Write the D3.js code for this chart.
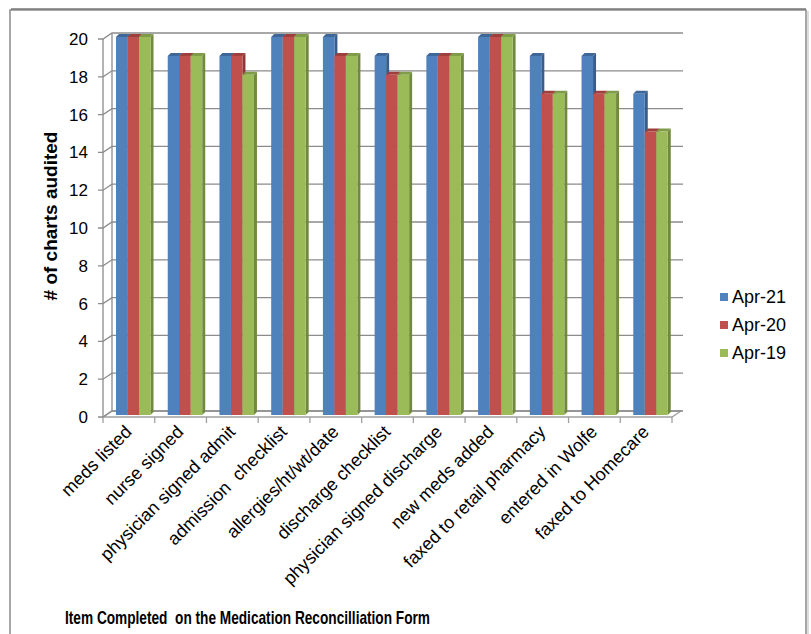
<!DOCTYPE html>
<html>
<head>
<meta charset="utf-8">
<script src="https://cdn.jsdelivr.net/npm/d3@7"></script>
<style>
  body { margin: 0; background: #fff; }
  text { font-family: "Liberation Sans", Arial, sans-serif; fill: #000; }
</style>
</head>
<body>
<div id="canvas"></div>
<script>
// data
var categories = ['meds listed', 'nurse signed', 'physician signed admit', 'admission  checklist',
  'allergies/ht/wt/date', 'discharge checklist', 'physician signed discharge', 'new meds added',
  'faxed to retail pharmacy', 'entered in Wolfe', 'faxed to Homecare'];
var seriesNames = ['Apr-21', 'Apr-20', 'Apr-19'];
var apr21 = [20, 19, 19, 20, 20, 19, 19, 20, 19, 19, 17];
var apr20 = [20, 19, 19, 20, 19, 18, 19, 20, 17, 17, 15];
var apr19 = [20, 19, 18, 20, 19, 18, 19, 20, 17, 17, 15];
var yTicks = [0, 2, 4, 6, 8, 10, 12, 14, 16, 18, 20];

var series = [apr21, apr20, apr19];
var front = ['#4F81BD', '#C0504D', '#9BBB59'];
var side = ['#385D8A', '#8C3836', '#71893F'];
var top_ = ['#3E6797', '#9E3F3C', '#7E9B48'];

//    defination
var W = 811, H = 634;
var x0 = 103, x1 = 672;
var dx = 9, dy = -6;   // depth of the back wall

var svg = d3.select('#canvas')
  .append('svg')
  .attr('width', W)
  .attr('height', H);

// frame
svg.append('rect')
  .attr('x', 10).attr('y', 10)
  .attr('width', 796).attr('height', 700)
  .attr('fill', '#fff')
  .attr('stroke', '#8a8a8a')
  .attr('stroke-width', 1.5);
svg.append('line')
  .attr('x1', 11).attr('x2', 806).attr('y1', 9).attr('y2', 9)
  .attr('stroke', '#777').attr('stroke-width', 1.5);
svg.append('line')
  .attr('x1', 808).attr('x2', 808).attr('y1', 11).attr('y2', H)
  .attr('stroke', '#ddd').attr('stroke-width', 2);

var x = d3.scaleBand()
  .domain(categories)
  .range([x0, x1]);
var y = d3.scaleLinear()
  .domain([0, 20])
  .range([417, 39]);

var wall = svg.append('g').attr('fill', 'none').attr('stroke', '#8c8c8c').attr('stroke-width', 1.3);

// floor
wall.append('path')
  .attr('d', 'M' + x0 + ',' + y(0) + 'L' + x1 + ',' + y(0) + 'L' + (x1 + dx) + ',' + (y(0) + dy) +
    'L' + (x0 + dx) + ',' + (y(0) + dy) + 'Z')
  .attr('stroke', '#a0a0a0');

// back wall gridlines + side wall diagonals
wall.selectAll('.grid')
  .data(yTicks)
  .enter()
  .append('path')
  .attr('class', 'grid')
  .attr('d', function (d) {
    return 'M' + (x0 - 5) + ',' + y(d) + 'L' + x0 + ',' + y(d) +
      'L' + (x0 + dx) + ',' + (y(d) + dy) + 'L' + (x1 + dx + 2) + ',' + (y(d) + dy);
  });

wall.append('line')
  .attr('x1', x0).attr('x2', x0).attr('y1', y(20)).attr('y2', y(0));
wall.append('line')
  .attr('x1', x0 + dx).attr('x2', x0 + dx).attr('y1', y(20) + dy).attr('y2', y(0) + dy);

// category ticks
wall.selectAll('.xtick')
  .data(categories.concat(['end']))
  .enter()
  .append('line')
  .attr('x1', function (d, i) { return x0 + i * x.bandwidth(); })
  .attr('x2', function (d, i) { return x0 + i * x.bandwidth(); })
  .attr('y1', y(0))
  .attr('y2', y(0) + 6)
  .attr('stroke', '#a0a0a0');

// y labels
svg.selectAll('.ylab')
  .data(yTicks)
  .enter()
  .append('text')
  .attr('x', 88)
  .attr('y', function (d) { return y(d); })
  .attr('dy', '0.35em')
  .attr('text-anchor', 'end')
  .style('font-size', '17px')
  .text(function (d) { return d; });

// bars
var bw = 11.5, bs = 3;
var xb = d3.scaleBand()
  .domain(d3.range(3))
  .range([0, 3 * bw]);
var bars = svg.append('g');
categories.forEach(function (c, ci) {
  var gx = x(c) + 13;
  series.forEach(function (s, si) {
    var v = s[ci];
    var l = gx + xb(si), r = l + bw;
    var t = y(v) - 2, b = y(0) - 2;
    bars.append('path')
      .attr('d', 'M' + r + ',' + t + 'L' + (r + bs) + ',' + (t - bs) + 'L' + (r + bs) + ',' + (b - bs) + 'L' + r + ',' + b + 'Z')
      .attr('fill', side[si]);
    bars.append('path')
      .attr('d', 'M' + l + ',' + t + 'L' + (l + bs) + ',' + (t - bs) + 'L' + (r + bs) + ',' + (t - bs) + 'L' + r + ',' + t + 'Z')
      .attr('fill', top_[si]);
    bars.append('rect')
      .attr('x', l).attr('y', t)
      .attr('width', bw).attr('height', b - t)
      .attr('fill', front[si]);
  });
});

// x labels
svg.selectAll('.xlab')
  .data(categories)
  .enter()
  .append('text')
  .attr('transform', function (d) {
    return 'translate(' + (x(d) + x.bandwidth() / 2 + 4) + ',' + 433 + ') rotate(-45)';
  })
  .attr('text-anchor', 'end')
  .style('font-size', '18px')
  .style('white-space', 'pre')
  .text(function (d) { return d; });

// axis titles
svg.append('text')
  .attr('transform', 'translate(57,216) rotate(-90)')
  .attr('text-anchor', 'middle')
  .style('font-size', '19px')
  .style('font-weight', 'bold')
  .text('# of charts audited');

svg.append('text')
  .attr('x', 65)
  .attr('y', 624)
  .attr('textLength', 365)
  .attr('lengthAdjust', 'spacingAndGlyphs')
  .style('font-size', '19px')
  .style('font-weight', 'bold')
  .style('white-space', 'pre')
  .text('Item Completed  on the Medication Reconcilliation Form');

// legend
var legend = svg.selectAll('.legend')
  .data(seriesNames)
  .enter()
  .append('g')
  .attr('transform', function (d, i) { return 'translate(720,' + (297 + i * 28) + ')'; });
legend.append('rect')
  .attr('x', 0).attr('y', -4)
  .attr('width', 8).attr('height', 8)
  .attr('fill', function (d, i) { return front[i]; });
legend.append('text')
  .attr('x', 12)
  .attr('dy', '0.36em')
  .style('font-size', '18px')
  .text(function (d) { return d; });
</script>
</body>
</html>
